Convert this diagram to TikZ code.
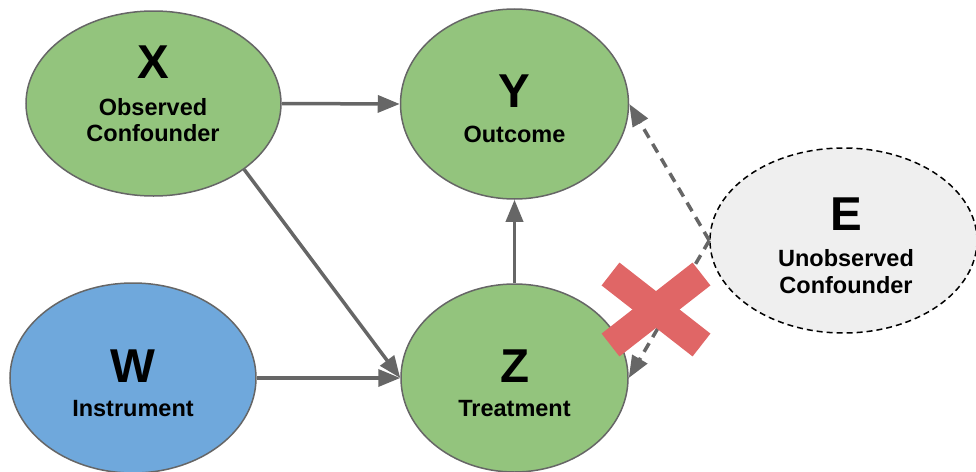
\documentclass[tikz,border=0pt]{standalone}
\usepackage{fontspec}
\setmainfont{Liberation Sans}
\usetikzlibrary{shapes.geometric,arrows.meta}
\definecolor{nodegreen}{HTML}{93C47D}
\definecolor{nodeblue}{HTML}{6FA8DC}
\definecolor{nodegrey}{HTML}{EFEFEF}
\definecolor{edgegrey}{HTML}{666666}
\definecolor{crossred}{HTML}{E06666}
\tikzset{
  var/.style={ellipse, draw=edgegrey, line width=1.5pt, inner sep=0pt},
  hidden/.style={ellipse, draw=black, line width=1.5pt, dash pattern=on 6pt off 4pt, fill=nodegrey, inner sep=0pt},
  letter/.style={anchor=base, inner sep=0pt, font=\fontsize{47.5}{50}\selectfont\bfseries},
  caption/.style={anchor=base, inner sep=0pt, font=\fontsize{23.5}{26}\selectfont\bfseries},
  arr/.style={draw=edgegrey, line width=3.5pt, -{Triangle[length=22pt,width=17pt]}},
  darr/.style={arr, dash pattern=on 10pt off 7pt},
  crossbar/.style={draw=crossred, line width=29pt}
}
\begin{document}
\begin{tikzpicture}[x=1pt,y=-1pt]
\useasboundingbox (0,0) rectangle (976,471);

% variables
\node[var, fill=nodegreen, minimum width=255pt, minimum height=185pt] (X) at (153.5,103.5) {};
\node[var, fill=nodegreen, minimum width=228pt, minimum height=190pt] (Y) at (514.5,104) {};
\node[var, fill=nodeblue,  minimum width=246pt, minimum height=190pt] (W) at (133,378) {};
\node[var, fill=nodegreen, minimum width=227pt, minimum height=188pt] (Z) at (514.5,378) {};
\node[hidden, minimum width=267pt, minimum height=185pt] (E) at (843.5,240.5) {};

% labels
\node[letter]  (Xl)  at (153,78)  {X};
\node[caption] (Xc1) at (153,115) {Observed};
\node[caption] (Xc2) at (153,141) {Confounder};
\node[letter]  (Yl)  at (514.5,107) {Y};
\node[caption] (Yc)  at (514.5,142.5) {Outcome};
\node[letter]  (Wl)  at (133,382) {W};
\node[caption] (Wc)  at (133,416) {Instrument};
\node[letter]  (Zl)  at (514.5,382) {Z};
\node[caption] (Zc)  at (514.5,416) {Treatment};
\node[letter]  (El)  at (846,230) {E};
\node[caption] (Ec1) at (846,266) {Unobserved};
\node[caption] (Ec2) at (846,293) {Confounder};

% causal edges
\draw[arr] (X.east) -- (Y.west);
\draw[arr] (X.south east) -- (Z.west);
\draw[arr] (W.east) -- (Z.west);
\draw[arr] (Z.north) -- (Y.south);
\draw[darr] (E.west) -- (Y.east);
\draw[darr] (E.west) -- (Z.east);

% blocked path
\coordinate (c1) at (610.5,274);
\coordinate (c2) at (701.5,345);
\coordinate (c3) at (701.5,274);
\coordinate (c4) at (610.5,345);
\draw[crossbar] (c1) -- (c2);
\draw[crossbar] (c3) -- (c4);
\end{tikzpicture}
\end{document}
